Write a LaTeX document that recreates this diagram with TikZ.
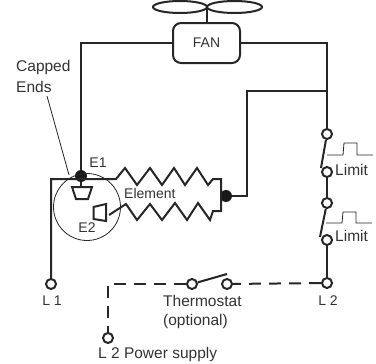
\documentclass[tikz,border=0pt]{standalone}
\usepackage{fontspec}
\setmainfont{Liberation Sans}
\begin{document}
\begin{tikzpicture}[x=1pt,y=-1pt,
  terminal/.style={circle,draw=black!85,line width=2pt,fill=white,inner sep=0pt,minimum size=10pt},
  joint/.style={circle,fill=black!90,inner sep=0pt,minimum size=12pt},
  wire/.style={draw=black!85,line width=2pt},
  dashwire/.style={wire,dash pattern=on 12pt off 8pt},
  thin wire/.style={draw=black!85,line width=0.8pt},
  label/.style={font=\fontsize{15.5}{17}\selectfont,text=black!80,inner sep=0pt},
  small label/.style={font=\fontsize{14}{16}\selectfont,text=black!80,inner sep=0pt}]
  \useasboundingbox (0,0) rectangle (376,364);

  \node[draw=black!85,line width=2pt,rounded corners=8pt,minimum width=67pt,minimum height=40pt,inner sep=0pt,small label] (fan) at (206.5,43) {FAN};
  \coordinate (hub) at (207,7);
  \draw[wire] (180,7) ellipse (27 and 6);
  \draw[wire] (234.5,7) ellipse (27.5 and 6);
  \draw[wire] (hub) -- (fan.north -| hub);

  \node[joint] (e1) at (81,176) {};
  \node[joint] (e3) at (226,196) {};
  \coordinate (corner) at (81,43);
  \coordinate (turn) at (327,43);
  \coordinate (feed) at (247,91);

  \node[terminal] (n1) at (327,134) {};
  \node[terminal] (n2) at (327,172) {};
  \node[terminal] (n3) at (327,203) {};
  \node[terminal] (n4) at (327,240) {};
  \node[terminal] (n5) at (327,283) {};
  \node[terminal] (n6) at (51,284) {};
  \node[terminal] (n7) at (108,338) {};
  \node[terminal] (n8) at (192,284) {};
  \node[terminal] (n9) at (227,284) {};

  % fan and feed
  \draw[wire] (fan.west) -- (corner) -- (e1);
  \draw[wire] (fan.east) -- (turn) -- (n1);
  \draw[wire] (e3) -- (247,196) -- (feed) -- (327,91);

  % limit switches
  \draw[wire] (n1) -- (321,168);
  \draw[wire] (n2) -- (n3);
  \draw[wire] (n3) -- (320,237);
  \draw[wire] (n4) -- (n5);
  \draw[thin wire] (327,155) -- (343,155) -- (344,143) -- (357,143) -- (357,155) -- (373,155);
  \draw[thin wire] (326,223) -- (342,223) -- (343,212) -- (356,212) -- (356,223) -- (372,223);

  % element
  \node[draw=black!85,line width=0.8pt,circle,minimum size=67pt,inner sep=0pt] (e0) at (87,207) {};
  \draw[wire] (n6) -- (51,179) -- (116,179) -- (125,168) -- (137,185) -- (150,168) -- (162,185) -- (174,168) -- (185,185) -- (197,168) -- (208,185) -- (213,179) -- (221,179) -- (221,211) -- (213,211) -- (210,220) -- (198,203) -- (187,220) -- (175,203) -- (162,220) -- (150,204) -- (137,220) -- (126,204) -- (109,215);
  \draw[wire] (e1) -- (81,187);
  \draw[wire] (72,187) -- (92,187) -- (88,199) -- (76,199) -- cycle;
  \draw[wire] (93.5,207) -- (106,204) -- (106,221) -- (93.5,219) -- cycle;

  % supply
  \draw[dashwire] (n5) -- (n9);
  \draw[wire] (n8) -- (227,274);
  \draw[dashwire] (n8) -- (108,284) -- (n7);

  \node[label,anchor=west] (t1) at (16,67) {Capped};
  \node[label,anchor=west] (t2) at (16,87) {Ends};
  \draw[thin wire] (47,96) -- (69,175);
  \node[small label] (t3) at (98,163) {E1};
  \node[small label] (t4) at (87,228) {E2};
  \node[small label,anchor=west] (t5) at (124,193) {Element};
  \node[label,anchor=west] (t6) at (335,170) {Limit};
  \node[label,anchor=west] (t7) at (335,236) {Limit};
  \node[small label] (t8) at (52,301) {L 1};
  \node[small label] (t9) at (328,301) {L 2};
  \node[label,anchor=west] (t10) at (163,301) {Thermostat};
  \node[label,anchor=west] (t11) at (163,321) {(optional)};
  \node[label,anchor=west] (t12) at (98,354) {L 2 Power supply};
\end{tikzpicture}
\end{document}
